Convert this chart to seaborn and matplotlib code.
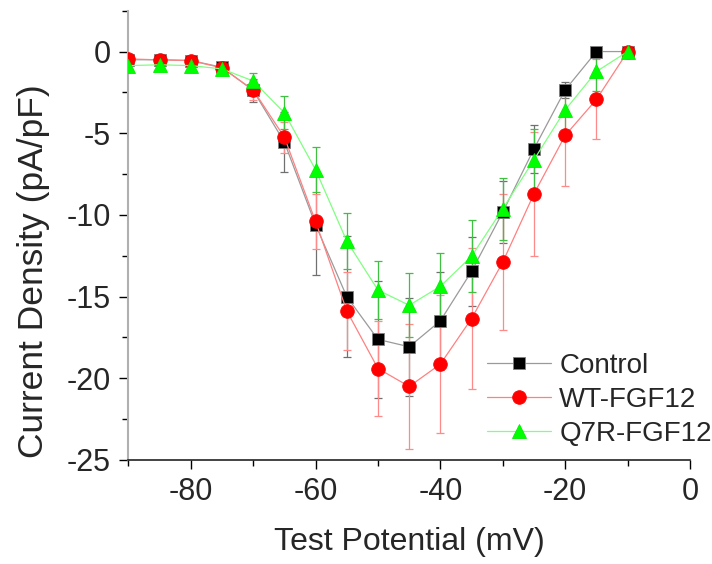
import numpy as np
import pandas as pd
import matplotlib
matplotlib.use("Agg")
import matplotlib.pyplot as plt
import seaborn as sns
from matplotlib.ticker import MultipleLocator

# test potentials (mV)
voltage = [-90, -85, -80, -75, -70, -65, -60, -55, -50, -45, -40, -35, -30, -25, -20, -15, -10]

# mean current density (pA/pF)
control = [-0.5, -0.5, -0.55, -0.96, -2.38, -5.54, -10.6, -15.0, -17.62, -18.07, -16.48,
           -13.45, -9.82, -5.95, -2.34, 0.0, 0.0]
wt_fgf12 = [-0.45, -0.51, -0.55, -1.0, -2.34, -5.24, -10.4, -15.87, -19.4, -20.5, -19.13,
            -16.34, -12.88, -8.7, -5.13, -2.93, 0.0]
q7r_fgf12 = [-0.86, -0.81, -0.86, -1.06, -1.8, -3.75, -7.23, -11.6, -14.6, -15.53, -14.37,
             -12.53, -9.62, -6.62, -3.57, -1.22, 0.0]

# error bars (SEM)
control_err = [0.2, 0.2, 0.2, 0.3, 0.68, 1.86, 3.1, 3.7, 3.6, 3.0, 3.0, 2.1, 1.9, 1.47, 0.5, 0.1, 0.0]
wt_err = [0.2, 0.2, 0.2, 0.3, 0.6, 0.95, 1.7, 2.4, 2.9, 3.8, 4.2, 4.3, 4.15, 3.8, 3.1, 2.45, 0.1]
q7r_err = [0.3, 0.3, 0.3, 0.3, 0.5, 1.0, 1.38, 1.7, 1.8, 1.95, 2.07, 2.2, 1.9, 1.9, 1.5, 1.2, 0.1]

groups = ["Control", "WT-FGF12", "Q7R-FGF12"]

df = pd.DataFrame({
    "V": voltage * 3,
    "I": control + wt_fgf12 + q7r_fgf12,
    "err": control_err + wt_err + q7r_err,
    "group": [g for g in groups for _ in voltage],
})

# line colour, marker face, marker edge, errorbar colour, marker, size
styles = {
    "Control": ("#9a9a9a", "black", "#808080", "#707070", "s", 8.5),
    "WT-FGF12": ("#ff8080", "#ff0000", "#ff0000", "#ff8a8a", "o", 9.8),
    "Q7R-FGF12": ("#80ff80", "#00ff00", "#00ee00", "#40c040", "^", 10.5),
}

sns.set_style("ticks")
plt.rcParams["font.family"] = ["Liberation Sans", "DejaVu Sans"]
plt.rcParams["axes.unicode_minus"] = False

fig = plt.figure(figsize=(7.12, 5.64), dpi=100)
ax = fig.add_axes([0.1802, 0.1844, 0.789, 0.7966])

for i, g in enumerate(groups):
    d = df[df["group"] == g]
    lc, mfc, mec, ec, mk, ms = styles[g]
    ax.errorbar(d["V"], d["I"], yerr=d["err"], fmt="none", ecolor=ec,
                elinewidth=0.9, capsize=2.8, capthick=0.9, zorder=1 + i)
    sns.lineplot(x=d["V"], y=d["I"], ax=ax, color=lc, marker=mk, markersize=ms,
                 markerfacecolor=mfc, markeredgecolor=mec, markeredgewidth=0.6,
                 linewidth=0.9, label=g, errorbar=None, zorder=4 + i)

ax.set_xlim(-90, 0)
ax.set_ylim(-25, 2.5)
ax.xaxis.set_major_locator(MultipleLocator(20))
ax.xaxis.set_minor_locator(MultipleLocator(10))
ax.yaxis.set_major_locator(MultipleLocator(5))
ax.yaxis.set_minor_locator(MultipleLocator(2.5))
ax.tick_params(axis="both", which="major", length=6.5, width=1, labelsize=22, pad=6,
               color="black")
ax.tick_params(axis="both", which="minor", length=4, width=1, color="black")

for s in ["top", "right"]:
    ax.spines[s].set_visible(False)
ax.spines["bottom"].set_color("#222222")
ax.spines["bottom"].set_linewidth(1.2)
ax.spines["left"].set_color("#b0b0b0")
ax.spines["left"].set_linewidth(1.5)

ax.set_xlabel("Test Potential (mV)", fontsize=23, labelpad=14)
ax.set_ylabel("Current Density (pA/pF)", fontsize=25.5)
ax.yaxis.set_label_coords(-0.14, 0.42)

ax.legend(loc="center left", bbox_to_anchor=(0.684, 0.291), bbox_transform=fig.transFigure,
          frameon=False, fontsize=20, handlelength=2.3, handletextpad=0.3,
          labelspacing=0.28, borderpad=0, borderaxespad=0)

fig.savefig("out.png", dpi=100)
